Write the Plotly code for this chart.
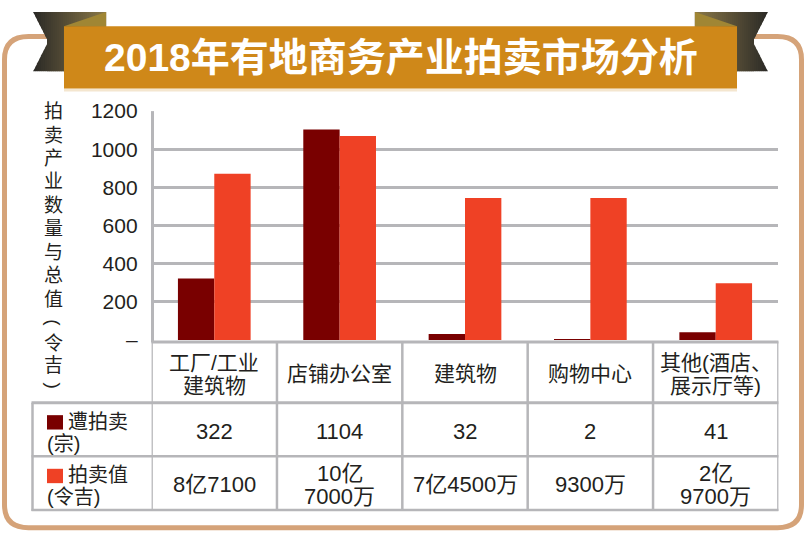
import plotly.graph_objects as go

# ---------------- data ----------------
title_text = "2018年有地商务产业拍卖市场分析"
categories = ["工厂/工业建筑物", "店铺办公室", "建筑物", "购物中心", "其他(酒店、展示厅等)"]
category_lines = [["工厂/工业", "建筑物"], ["店铺办公室"], ["建筑物"], ["购物中心"], ["其他(酒店、", "展示厅等)"]]
auction_count = [322, 1104, 32, 2, 41]
auction_value_bar = [871, 1070, 745, 745, 297]          # bar heights as drawn (百万令吉)
auction_count_text = ["322", "1104", "32", "2", "41"]
auction_value_lines = [["8亿7100"], ["10亿", "7000万"], ["7亿4500万"], ["9300万"], ["2亿", "9700万"]]
y_tick_values = [0, 200, 400, 600, 800, 1000, 1200]
y_tick_text = ["–", "200", "400", "600", "800", "1000", "1200"]
y_title_chars = ["拍", "卖", "产", "业", "数", "量", "与", "总", "值", "(", "令", "吉", ")"]
series_names = ["遭拍卖", "拍卖值"]
series_units = ["(宗)", "(令吉)"]

# ---------------- style ----------------
W, H = 805, 543
DARK = "#790000"
RED = "#ef4125"
GRID = "#b6b6b9"
BORDER = "#d5a379"
BANNER = "#cf8819"
TEXT = "#231f20"
FONT = "Liberation Sans, Arial, Noto Sans CJK SC, sans-serif"
TITLE_FONT = "Liberation Sans Narrow, Liberation Sans, Noto Sans CJK SC, sans-serif"


def X(px):
    return px / W


def Y(py):
    return 1 - py / H


Y_ZERO, Y_TOP = 342.5, 103.5
X_LEFT, X_RIGHT = 151.6, 778.4

fig = go.Figure()
fig.add_trace(go.Bar(x=categories, y=auction_count, name=series_names[0],
                     marker=dict(color=DARK, line=dict(width=0)), hoverinfo="skip"))
fig.add_trace(go.Bar(x=categories, y=auction_value_bar, name=series_names[1],
                     marker=dict(color=RED, line=dict(width=0)), hoverinfo="skip"))

shapes = []
annotations = []

# outer rounded border
x0, y0, x1, y1, r = 4.5, 25.5, 801.5, 538.5, 24


def P(x, y):
    return f"{X(x):.5f},{Y(y):.5f}"


path = (f"M {P(x0 + r, y0)} L {P(x1 - r, y0)} Q {P(x1, y0)} {P(x1, y0 + r)} "
        f"L {P(x1, y1 - r)} Q {P(x1, y1)} {P(x1 - r, y1)} L {P(x0 + r, y1)} "
        f"Q {P(x0, y1)} {P(x0, y1 - r)} L {P(x0, y0 + r)} Q {P(x0, y0)} {P(x0 + r, y0)} Z")
shapes.append(dict(type="path", xref="paper", yref="paper", path=path,
                   line=dict(color=BORDER, width=5), fillcolor="rgba(0,0,0,0)", layer="below"))


# ribbons with gradient
def lerp_color(c1, c2, t):
    a = [int(c1[i:i + 2], 16) for i in (1, 3, 5)]
    b = [int(c2[i:i + 2], 16) for i in (1, 3, 5)]
    return "#" + "".join(f"{int(round(a[k] + (b[k] - a[k]) * t)):02x}" for k in range(3))


def poly(pts, color):
    d = "M " + " L ".join(P(px, py) for px, py in pts) + " Z"
    return dict(type="path", xref="paper", yref="paper", path=d, fillcolor=color,
                line=dict(width=0), layer="above")


def ribbon(mirror):
    outer, notch, inner, top, bot, mid = 33.0, 48.0, 106.0, 0.0, 62.0, 31.0
    c_dark, c_light = "#2a2926", "#8a7848"
    out = []
    step = 2.0
    xa = outer
    while xa < inner - 1e-6:
        xb = min(xa + step, inner)
        t = (xa + xb) / 2
        col = lerp_color(c_dark, c_light, (t - outer) / (inner - outer))
        if xb <= notch + 1e-6:
            ta = mid * (xa - outer) / (notch - outer)
            tb = mid * (xb - outer) / (notch - outer)
            pieces = [[(xa, top), (xb + 0.3, top), (xb + 0.3, tb), (xa, ta)],
                      [(xa, bot - ta), (xb + 0.3, bot - tb), (xb + 0.3, bot), (xa, bot)]]
        else:
            pieces = [[(xa, top), (xb + 0.3, top), (xb + 0.3, bot), (xa, bot)]]
        for pc in pieces:
            if mirror:
                pc = [(801 - px, py) for px, py in pc]
            out.append(poly(pc, col))
        xa = xb
    fold = [(64, 15), (106, 0), (106, 15)]
    if mirror:
        fold = [(801 - px, py) for px, py in fold]
    out.append(poly(fold, "#a08634"))
    return out


shapes += ribbon(False)
shapes += ribbon(True)

# banner
shapes.append(dict(type="rect", xref="paper", yref="paper", x0=X(64), x1=X(737), y0=Y(83), y1=Y(80),
                   fillcolor="#f4e6cf", line=dict(width=0), layer="above"))
shapes.append(dict(type="rect", xref="paper", yref="paper", x0=X(64), x1=X(737), y0=Y(80), y1=Y(15),
                   fillcolor=BANNER, line=dict(width=0), layer="above"))
annotations.append(dict(xref="paper", yref="paper", x=X(400.5), y=Y(48), text=f"<b>{title_text}</b>",
                        showarrow=False, xanchor="center", yanchor="middle",
                        font=dict(family=TITLE_FONT, size=39, color="white")))

# left axis line
shapes.append(dict(type="line", xref="paper", yref="paper", x0=X(152.5), x1=X(152.5), y0=Y(Y_TOP), y1=Y(345),
                   line=dict(color=GRID, width=3), layer="above"))

# table lines
LINE_W = 2.5
shapes.append(dict(type="line", xref="paper", yref="paper", x0=X(X_LEFT), x1=X(X_RIGHT), y0=Y(344.5), y1=Y(344.5),
                   line=dict(color=GRID, width=3), layer="above"))
for yy in (408, 464, 520):
    shapes.append(dict(type="line", xref="paper", yref="paper", x0=X(31.5), x1=X(X_RIGHT), y0=Y(yy), y1=Y(yy),
                       line=dict(color=GRID, width=LINE_W if yy != 408 else 3), layer="above"))
shapes.append(dict(type="line", xref="paper", yref="paper", x0=X(32.5), x1=X(32.5), y0=Y(408), y1=Y(521),
                   line=dict(color=GRID, width=LINE_W), layer="above"))
for i in range(len(categories) + 1):
    shapes.append(dict(type="line", xref="x", yref="paper", x0=i - 0.5, x1=i - 0.5, y0=Y(344), y1=Y(521),
                       line=dict(color=GRID, width=LINE_W), layer="above"))

# category header labels
for cat, lines in zip(categories, category_lines):
    ys = [377] if len(lines) == 1 else [366.5, 390]
    for ln, yy in zip(lines, ys):
        annotations.append(dict(xref="x", yref="paper", x=cat, y=Y(yy), text=ln, showarrow=False,
                                xanchor="center", yanchor="middle",
                                font=dict(family=FONT, size=21, color=TEXT)))

# table values
for cat, t in zip(categories, auction_count_text):
    annotations.append(dict(xref="x", yref="paper", x=cat, y=Y(438), text=t, showarrow=False,
                            xanchor="center", yanchor="middle", font=dict(family=FONT, size=22, color=TEXT)))
for cat, lines in zip(categories, auction_value_lines):
    ys = [493] if len(lines) == 1 else [481.5, 506]
    for ln, yy in zip(lines, ys):
        annotations.append(dict(xref="x", yref="paper", x=cat, y=Y(yy), text=ln, showarrow=False,
                                xanchor="center", yanchor="middle", font=dict(family=FONT, size=22, color=TEXT)))

# row labels with colour keys
for (name, unit, col, ytop, yname, yunit) in [
        (series_names[0], series_units[0], DARK, 421, 428, 451),
        (series_names[1], series_units[1], RED, 477, 484, 506)]:
    shapes.append(dict(type="rect", xref="paper", yref="paper", x0=X(47), x1=X(63), y0=Y(ytop + 15), y1=Y(ytop),
                       fillcolor=col, line=dict(width=0), layer="above"))
    annotations.append(dict(xref="paper", yref="paper", x=X(66), y=Y(yname), text=name, showarrow=False,
                            xanchor="left", yanchor="middle", font=dict(family=FONT, size=20, color=TEXT)))
    annotations.append(dict(xref="paper", yref="paper", x=X(45), y=Y(yunit), text=unit, showarrow=False,
                            xanchor="left", yanchor="middle", font=dict(family=FONT, size=20, color=TEXT)))

# vertical y-axis title (characters stacked, brackets turned)
title_y = [104, 128.5, 153, 177.5, 202, 226.5, 251, 275.5, 300, 325, 346, 369, 390]
for ch, yy in zip(y_title_chars, title_y):
    annotations.append(dict(xref="paper", yref="paper", x=X(54), y=Y(yy), text=ch, showarrow=False,
                            xanchor="center", yanchor="middle",
                            textangle=90 if ch in "()" else 0,
                            font=dict(family=FONT, size=19, color=TEXT)))

fig.update_layout(
    width=W, height=H,
    margin=dict(l=0, r=0, t=0, b=0, pad=0),
    paper_bgcolor="white", plot_bgcolor="rgba(0,0,0,0)",
    showlegend=False, barmode="group", bargap=0.42, bargroupgap=0,
    xaxis=dict(domain=[X(X_LEFT), X(X_RIGHT)], range=[-0.5, 4.5], showticklabels=False,
               showgrid=False, zeroline=False, showline=False, ticks="", fixedrange=True),
    yaxis=dict(domain=[Y(Y_ZERO), Y(Y_TOP)], range=[0, 1200], tickvals=y_tick_values, ticktext=y_tick_text,
               showgrid=True, gridcolor=GRID, gridwidth=3, zeroline=False, showline=False, ticks="",
               ticklabelstandoff=13, tickfont=dict(family=FONT, size=21, color=TEXT), fixedrange=True),
    shapes=shapes, annotations=annotations,
)

fig.write_html("out.html", config={"displayModeBar": False},
               post_script="document.body.style.margin='0';document.body.style.overflow='hidden';")
